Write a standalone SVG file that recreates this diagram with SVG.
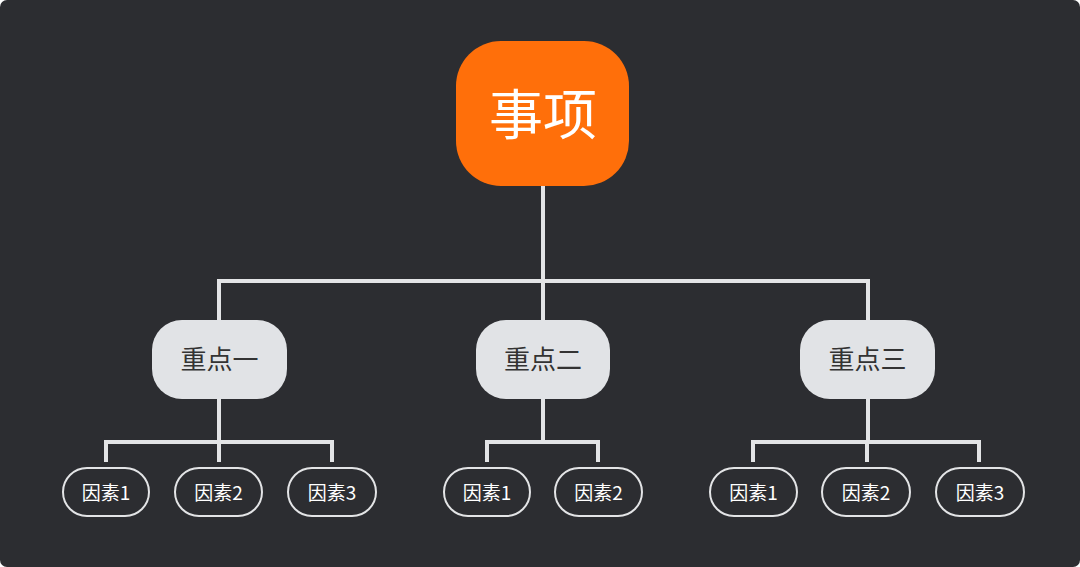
<svg xmlns="http://www.w3.org/2000/svg" width="1080" height="567" viewBox="0 0 1080 567">
<style>
.conn{fill:none;stroke:#e3e4e6;stroke-width:4;}
.l2 rect{fill:#e1e3e6;}
.l2 text{fill:#333;font-size:26px;}
.l3 rect{fill:none;stroke:#e3e4e6;stroke-width:2;}
.l3 text{fill:#fff;font-size:19px;}
text{font-family:"Noto Sans CJK SC","Liberation Sans",sans-serif;text-anchor:middle;dominant-baseline:central;}
</style>
<rect x="0" y="0" width="1080" height="567" fill="#ffffff"/>
<rect x="0" y="0" width="1080" height="567" rx="7" fill="#2c2d31"/>
<g id="connectors">
<path class="conn" d="M543 186V281M219 320V281H868V320M543 281V320"/>
<path class="conn" d="M219 399V442M106 462V442H332V462M219 442V462"/>
<path class="conn" d="M543 399V442M487 462V442H598V462"/>
<path class="conn" d="M868 399V442M753 462V442H979V462M867 442V462"/>
</g>
<g id="root">
<rect x="456" y="41" width="173" height="145" rx="45" fill="#ff6f0a"/>
<text x="543" y="111" fill="#fff" style="font-size:54px">事项</text>
</g>
<g id="k1" class="l2"><rect x="152" y="320" width="135" height="79" rx="30"/><text x="219.5" y="357.5">重点一</text></g>
<g id="k2" class="l2"><rect x="476" y="320" width="134" height="79" rx="30"/><text x="543" y="357.5">重点二</text></g>
<g id="k3" class="l2"><rect x="800" y="320" width="135" height="79" rx="30"/><text x="867.5" y="357.5">重点三</text></g>
<g id="f11" class="l3"><rect x="63" y="468" width="86" height="48" rx="24"/><text x="106" y="491">因素1</text></g>
<g id="f12" class="l3"><rect x="175" y="468" width="87" height="48" rx="24"/><text x="218.5" y="491">因素2</text></g>
<g id="f13" class="l3"><rect x="288" y="468" width="88" height="48" rx="24"/><text x="332" y="491">因素3</text></g>
<g id="f21" class="l3"><rect x="444" y="468" width="86" height="48" rx="24"/><text x="487" y="491">因素1</text></g>
<g id="f22" class="l3"><rect x="555" y="468" width="87" height="48" rx="24"/><text x="598.5" y="491">因素2</text></g>
<g id="f31" class="l3"><rect x="710" y="468" width="87" height="48" rx="24"/><text x="753.5" y="491">因素1</text></g>
<g id="f32" class="l3"><rect x="822" y="468" width="88" height="48" rx="24"/><text x="866" y="491">因素2</text></g>
<g id="f33" class="l3"><rect x="936" y="468" width="88" height="48" rx="24"/><text x="980" y="491">因素3</text></g>
</svg>
